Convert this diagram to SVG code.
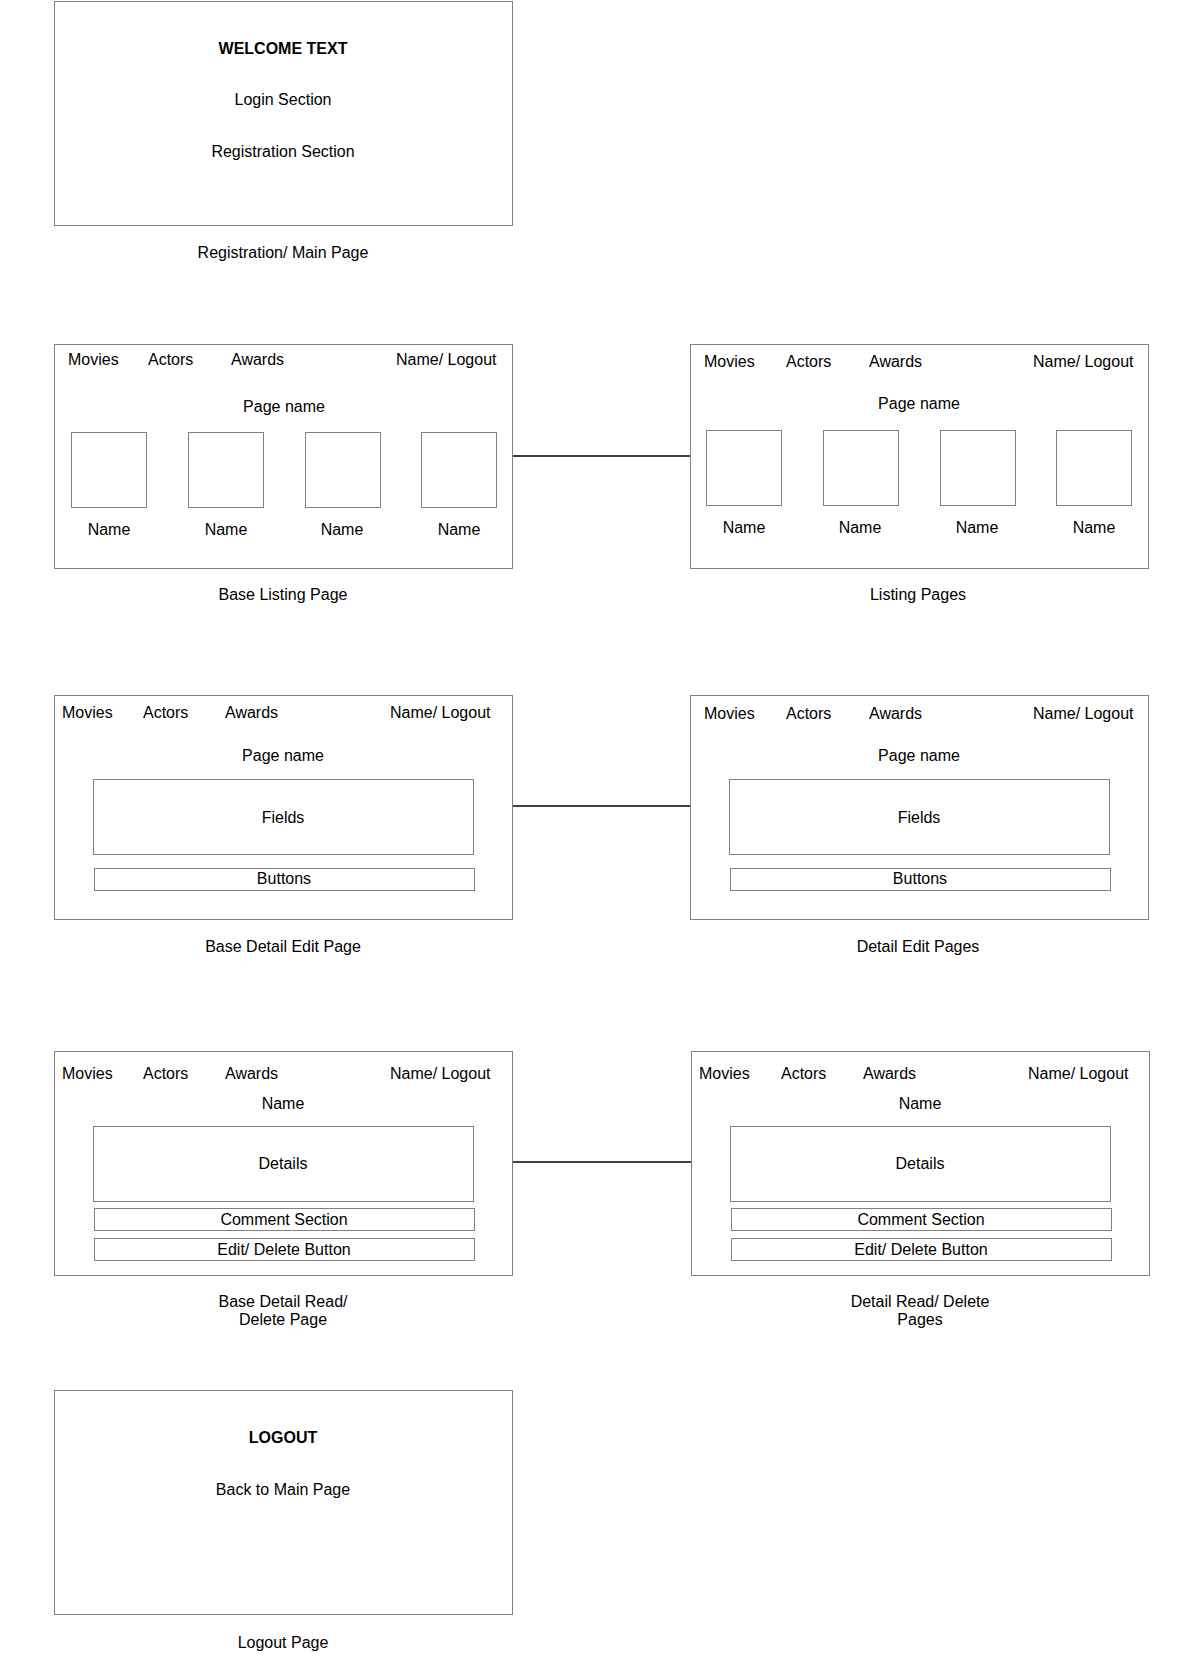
<svg xmlns="http://www.w3.org/2000/svg" width="1182" height="1657" viewBox="0 0 1182 1657">
<style>
rect{fill:#fff;stroke:#808080;stroke-width:1}
text{font-family:"Liberation Sans",Arial,sans-serif;font-size:16px;fill:#000}
.c{text-anchor:middle}
.b{font-weight:bold}
.conn line{stroke:#000;stroke-width:1.3}
</style>
<rect x="0" y="0" width="1182" height="1657" style="fill:#fff;stroke:none"/>
<g id="registration-main">
<rect x="54.5" y="1.5" width="458" height="224"/>
<text class="c b" x="283" y="54">WELCOME TEXT</text>
<text class="c" x="283" y="105">Login Section</text>
<text class="c" x="283" y="157">Registration Section</text>
<text class="c" x="283" y="258">Registration/ Main Page</text>
</g>
<g id="base-listing">
<rect x="54.5" y="344.5" width="458" height="224"/>
<text x="68" y="365">Movies</text>
<text x="148" y="365">Actors</text>
<text x="231" y="365">Awards</text>
<text x="396" y="365">Name/ Logout</text>
<text class="c" x="284" y="412">Page name</text>
<rect x="71.5" y="432.5" width="75" height="75"/>
<rect x="188.5" y="432.5" width="75" height="75"/>
<rect x="305.5" y="432.5" width="75" height="75"/>
<rect x="421.5" y="432.5" width="75" height="75"/>
<text class="c" x="109" y="535">Name</text>
<text class="c" x="226" y="535">Name</text>
<text class="c" x="342" y="535">Name</text>
<text class="c" x="459" y="535">Name</text>
<text class="c" x="283" y="600">Base Listing Page</text>
</g>
<g id="listing-pages">
<rect x="690.5" y="344.5" width="458" height="224"/>
<text x="704" y="367">Movies</text>
<text x="786" y="367">Actors</text>
<text x="869" y="367">Awards</text>
<text x="1033" y="367">Name/ Logout</text>
<text class="c" x="919" y="409">Page name</text>
<rect x="706.5" y="430.5" width="75" height="75"/>
<rect x="823.5" y="430.5" width="75" height="75"/>
<rect x="940.5" y="430.5" width="75" height="75"/>
<rect x="1056.5" y="430.5" width="75" height="75"/>
<text class="c" x="744" y="533">Name</text>
<text class="c" x="860" y="533">Name</text>
<text class="c" x="977" y="533">Name</text>
<text class="c" x="1094" y="533">Name</text>
<text class="c" x="918" y="600">Listing Pages</text>
</g>
<g id="base-detail-edit">
<rect x="54.5" y="695.5" width="458" height="224"/>
<text x="62" y="718">Movies</text>
<text x="143" y="718">Actors</text>
<text x="225" y="718">Awards</text>
<text x="390" y="718">Name/ Logout</text>
<text class="c" x="283" y="761">Page name</text>
<rect x="93.5" y="779.5" width="380" height="75"/>
<text class="c" x="283" y="823">Fields</text>
<rect x="94.5" y="868.5" width="380" height="22"/>
<text class="c" x="284" y="884">Buttons</text>
<text class="c" x="283" y="952">Base Detail Edit Page</text>
</g>
<g id="detail-edit-pages">
<rect x="690.5" y="695.5" width="458" height="224"/>
<text x="704" y="719">Movies</text>
<text x="786" y="719">Actors</text>
<text x="869" y="719">Awards</text>
<text x="1033" y="719">Name/ Logout</text>
<text class="c" x="919" y="761">Page name</text>
<rect x="729.5" y="779.5" width="380" height="75"/>
<text class="c" x="919" y="823">Fields</text>
<rect x="730.5" y="868.5" width="380" height="22"/>
<text class="c" x="920" y="884">Buttons</text>
<text class="c" x="918" y="952">Detail Edit Pages</text>
</g>
<g id="base-detail-read">
<rect x="54.5" y="1051.5" width="458" height="224"/>
<text x="62" y="1079">Movies</text>
<text x="143" y="1079">Actors</text>
<text x="225" y="1079">Awards</text>
<text x="390" y="1079">Name/ Logout</text>
<text class="c" x="283" y="1109">Name</text>
<rect x="93.5" y="1126.5" width="380" height="75"/>
<text class="c" x="283" y="1169">Details</text>
<rect x="94.5" y="1208.5" width="380" height="22"/>
<text class="c" x="284" y="1225">Comment Section</text>
<rect x="94.5" y="1238.5" width="380" height="22"/>
<text class="c" x="284" y="1255">Edit/ Delete Button</text>
<text class="c" x="283" y="1307">Base Detail Read/</text>
<text class="c" x="283" y="1325">Delete Page</text>
</g>
<g id="detail-read-pages">
<rect x="691.5" y="1051.5" width="458" height="224"/>
<text x="699" y="1079">Movies</text>
<text x="781" y="1079">Actors</text>
<text x="863" y="1079">Awards</text>
<text x="1028" y="1079">Name/ Logout</text>
<text class="c" x="920" y="1109">Name</text>
<rect x="730.5" y="1126.5" width="380" height="75"/>
<text class="c" x="920" y="1169">Details</text>
<rect x="731.5" y="1208.5" width="380" height="22"/>
<text class="c" x="921" y="1225">Comment Section</text>
<rect x="731.5" y="1238.5" width="380" height="22"/>
<text class="c" x="921" y="1255">Edit/ Delete Button</text>
<text class="c" x="920" y="1307">Detail Read/ Delete</text>
<text class="c" x="920" y="1325">Pages</text>
</g>
<g id="logout-page">
<rect x="54.5" y="1390.5" width="458" height="224"/>
<text class="c b" x="283" y="1443">LOGOUT</text>
<text class="c" x="283" y="1495">Back to Main Page</text>
<text class="c" x="283" y="1648">Logout Page</text>
</g>
<g id="connectors" class="conn">
<line x1="513" y1="456" x2="690" y2="456"/>
<line x1="513" y1="806" x2="690" y2="806"/>
<line x1="513" y1="1162" x2="691" y2="1162"/>
</g>
</svg>
